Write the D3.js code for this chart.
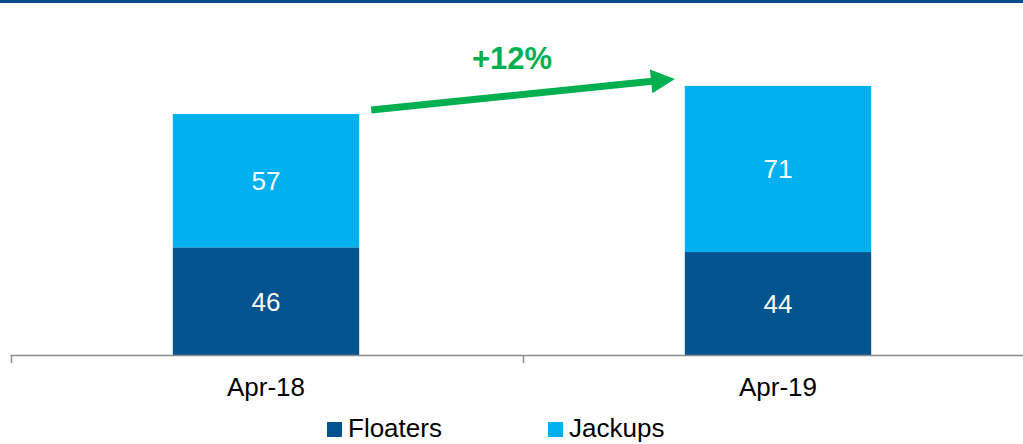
<!DOCTYPE html>
<html>
<head>
<meta charset="utf-8">
<script src="https://cdn.jsdelivr.net/npm/d3@7"></script>
<style>
  html, body { margin: 0; padding: 0; background: #fff; }
  svg { display: block; font-family: "Liberation Sans", Arial, sans-serif; }
</style>
</head>
<body>
<svg id="chart" width="1023" height="444"></svg>
<script>
const categories = ["Apr-18", "Apr-19"];
const floaters = [46, 44];
const jackups = [57, 71];
const seriesNames = ["Floaters", "Jackups"];
const growthLabel = "+12%";

const colors = { Floaters: "#02548f", Jackups: "#00b0f0" };

const svg = d3.select("#chart");
const W = 1023, H = 444;

// top border
svg.append("rect").attr("x", 0).attr("y", 0).attr("width", W).attr("height", 3).attr("fill", "#0b4f8a");

const x = d3.scaleBand().domain(categories).range([10, 1034]).paddingInner(0.636).paddingOuter(0.318);
const y = d3.scaleLinear().domain([0, 140]).range([355, 355 - 140 * 2.34]);

const data = categories.map((c, i) => ({ cat: c, Floaters: floaters[i], Jackups: jackups[i] }));
const stack = d3.stack().keys(seriesNames)(data);

const g = svg.append("g");
stack.forEach(layer => {
  g.selectAll(null).data(layer).enter().append("rect")
    .attr("x", d => x(d.data.cat))
    .attr("width", x.bandwidth())
    .attr("y", d => y(d[1]))
    .attr("height", d => y(d[0]) - y(d[1]))
    .attr("fill", colors[layer.key]);
  g.selectAll(null).data(layer).enter().append("text")
    .attr("x", d => x(d.data.cat) + x.bandwidth() / 2)
    .attr("y", d => (y(d[0]) + y(d[1])) / 2)
    .attr("dy", "0.36em")
    .attr("text-anchor", "middle")
    .attr("fill", "#fff")
    .attr("font-size", 26)
    .text(d => d[1] - d[0]);
});

// axis
const step = x.step();
const x0 = 10.5;
svg.append("line").attr("x1", x0).attr("x2", W).attr("y1", 355.5).attr("y2", 355.5)
  .attr("stroke", "#8c8c8c").attr("stroke-width", 1.5);
[0, 1].forEach(i => {
  const tx = Math.round(x0 + i * step) + 0.5;
  svg.append("line").attr("x1", tx).attr("x2", tx).attr("y1", 355).attr("y2", 363)
    .attr("stroke", "#8c8c8c").attr("stroke-width", 1.5);
});
svg.selectAll(".xl").data(categories).enter().append("text")
  .attr("x", d => x(d) + x.bandwidth() / 2)
  .attr("y", 396)
  .attr("text-anchor", "middle")
  .attr("font-size", 26)
  .attr("fill", "#000")
  .text(d => d);

// growth arrow
const ax1 = x(categories[0]) + x.bandwidth() + 12, ay1 = 110;
const ax2 = 675, ay2 = 79;
const ang = Math.atan2(ay2 - ay1, ax2 - ax1);
const headLen = 24, headHalf = 12, shaft = 7;
const bx = ax2 - headLen * Math.cos(ang), by = ay2 - headLen * Math.sin(ang);
const nx = -Math.sin(ang), ny = Math.cos(ang);
svg.append("line").attr("x1", ax1).attr("y1", ay1).attr("x2", bx + Math.cos(ang)).attr("y2", by + Math.sin(ang))
  .attr("stroke", "#00b050").attr("stroke-width", shaft);
svg.append("path")
  .attr("d", `M${ax2},${ay2} L${bx + nx * headHalf},${by + ny * headHalf} L${bx - nx * headHalf},${by - ny * headHalf} Z`)
  .attr("fill", "#00b050");
svg.append("text").attr("x", 512).attr("y", 69).attr("text-anchor", "middle")
  .attr("font-size", 31).attr("font-weight", "bold").attr("fill", "#00b050").text(growthLabel);

// legend
const legX = [327, 548];
seriesNames.forEach((s, i) => {
  svg.append("rect").attr("x", legX[i]).attr("y", 422).attr("width", 15).attr("height", 15).attr("fill", colors[s]);
  svg.append("text").attr("x", legX[i] + 21).attr("y", 437).attr("font-size", 26).attr("fill", "#000").text(s);
});
</script>
</body>
</html>
